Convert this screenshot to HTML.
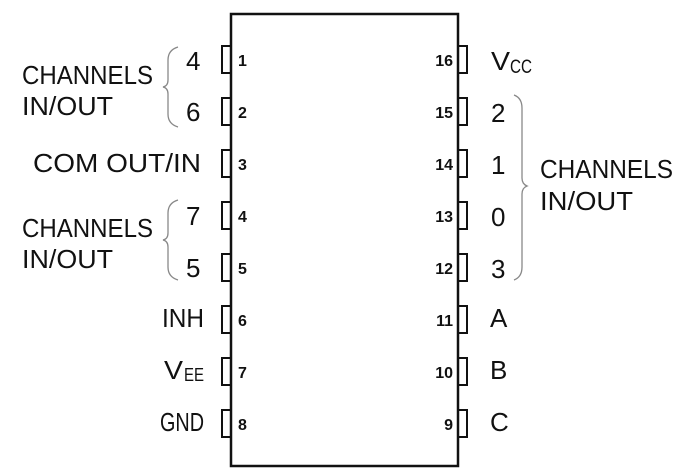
<!DOCTYPE html>
<html><head><meta charset="utf-8"><style>
html,body{margin:0;padding:0;background:#fff;}
svg{display:block;}
text{font-family:"Liberation Sans",sans-serif;fill:#111;}
</style></head><body>
<svg width="692" height="473" viewBox="0 0 692 473">
<rect x="231" y="14" width="227" height="452" fill="none" stroke="#111" stroke-width="2.5"/>
<g id="pins"></g>
<g stroke="#888" stroke-width="1.3" fill="none">
<path d="M178 47 Q168 50 168 60 L168 80 Q168 86 163 87 Q168 88 168 94 L168 114 Q168 124 178 127"/>
<path d="M178 200 Q168 203 168 213 L168 233 Q168 239 163 240 Q168 241 168 247 L168 267 Q168 277 178 280"/>
<path d="M514 95 Q522 98 522 108 L522 178 Q522 184 527 186 Q522 188 522 194 L522 267 Q522 277 514 280"/>
</g>
<g font-size="26">
<text x="22" y="84" textLength="131" lengthAdjust="spacingAndGlyphs">CHANNELS</text>
<text x="22" y="115" textLength="91" lengthAdjust="spacingAndGlyphs">IN/OUT</text>
<text x="33" y="172" textLength="168" lengthAdjust="spacingAndGlyphs">COM  OUT/IN</text>
<text x="22" y="237" textLength="131" lengthAdjust="spacingAndGlyphs">CHANNELS</text>
<text x="22" y="268" textLength="91" lengthAdjust="spacingAndGlyphs">IN/OUT</text>
<text x="162" y="327" textLength="42" lengthAdjust="spacingAndGlyphs">INH</text>
<text x="164" y="379" textLength="19" lengthAdjust="spacingAndGlyphs">V</text>
<text x="184" y="381" font-size="18" textLength="20" lengthAdjust="spacingAndGlyphs">EE</text>
<text x="160" y="431" textLength="44" lengthAdjust="spacingAndGlyphs">GND</text>
<text x="186" y="70">4</text>
<text x="186" y="121">6</text>
<text x="186" y="225">7</text>
<text x="186" y="277">5</text>
<text x="491" y="70" textLength="19" lengthAdjust="spacingAndGlyphs">V</text>
<text x="510" y="73" font-size="19" textLength="22" lengthAdjust="spacingAndGlyphs">CC</text>
<text x="491" y="122">2</text>
<text x="491" y="174">1</text>
<text x="491" y="226">0</text>
<text x="491" y="278">3</text>
<text x="540" y="178" textLength="133" lengthAdjust="spacingAndGlyphs">CHANNELS</text>
<text x="540" y="210" textLength="93" lengthAdjust="spacingAndGlyphs">IN/OUT</text>
<text x="490" y="327">A</text>
<text x="490" y="379">B</text>
<text x="490" y="431">C</text>
</g>
</svg>
<script>
const leftPins=[1,2,3,4,5,6,7,8];
const rightPins=[16,15,14,13,12,11,10,9];
const g=document.getElementById('pins');
const NS='http://www.w3.org/2000/svg';
function yPos(i){return 59+i*52;}
leftPins.forEach((p,i)=>{
  const r=document.createElementNS(NS,'rect');
  r.setAttribute('x',222);r.setAttribute('y',yPos(i)-13);r.setAttribute('width',9);r.setAttribute('height',27);
  r.setAttribute('fill','none');r.setAttribute('stroke','#111');r.setAttribute('stroke-width','2');
  
  
  g.appendChild(r);
  const t=document.createElementNS(NS,'text');
  t.setAttribute('x',238);t.setAttribute('y',yPos(i)+7);t.setAttribute('font-size','16');
  t.setAttribute('font-weight','bold');
  t.textContent=p;
  
  
  g.appendChild(t);
});
rightPins.forEach((p,i)=>{
  const r=document.createElementNS(NS,'rect');
  r.setAttribute('x',458);r.setAttribute('y',yPos(i)-13);r.setAttribute('width',9);r.setAttribute('height',27);
  r.setAttribute('fill','none');r.setAttribute('stroke','#111');r.setAttribute('stroke-width','2');
  
  
  g.appendChild(r);
  const t=document.createElementNS(NS,'text');
  t.setAttribute('x',453);t.setAttribute('y',yPos(i)+7);t.setAttribute('font-size','16');
  t.setAttribute('font-weight','bold');
  t.setAttribute('text-anchor','end');
  t.textContent=p;
  
  
  g.appendChild(t);
});
</script>
</body></html>
